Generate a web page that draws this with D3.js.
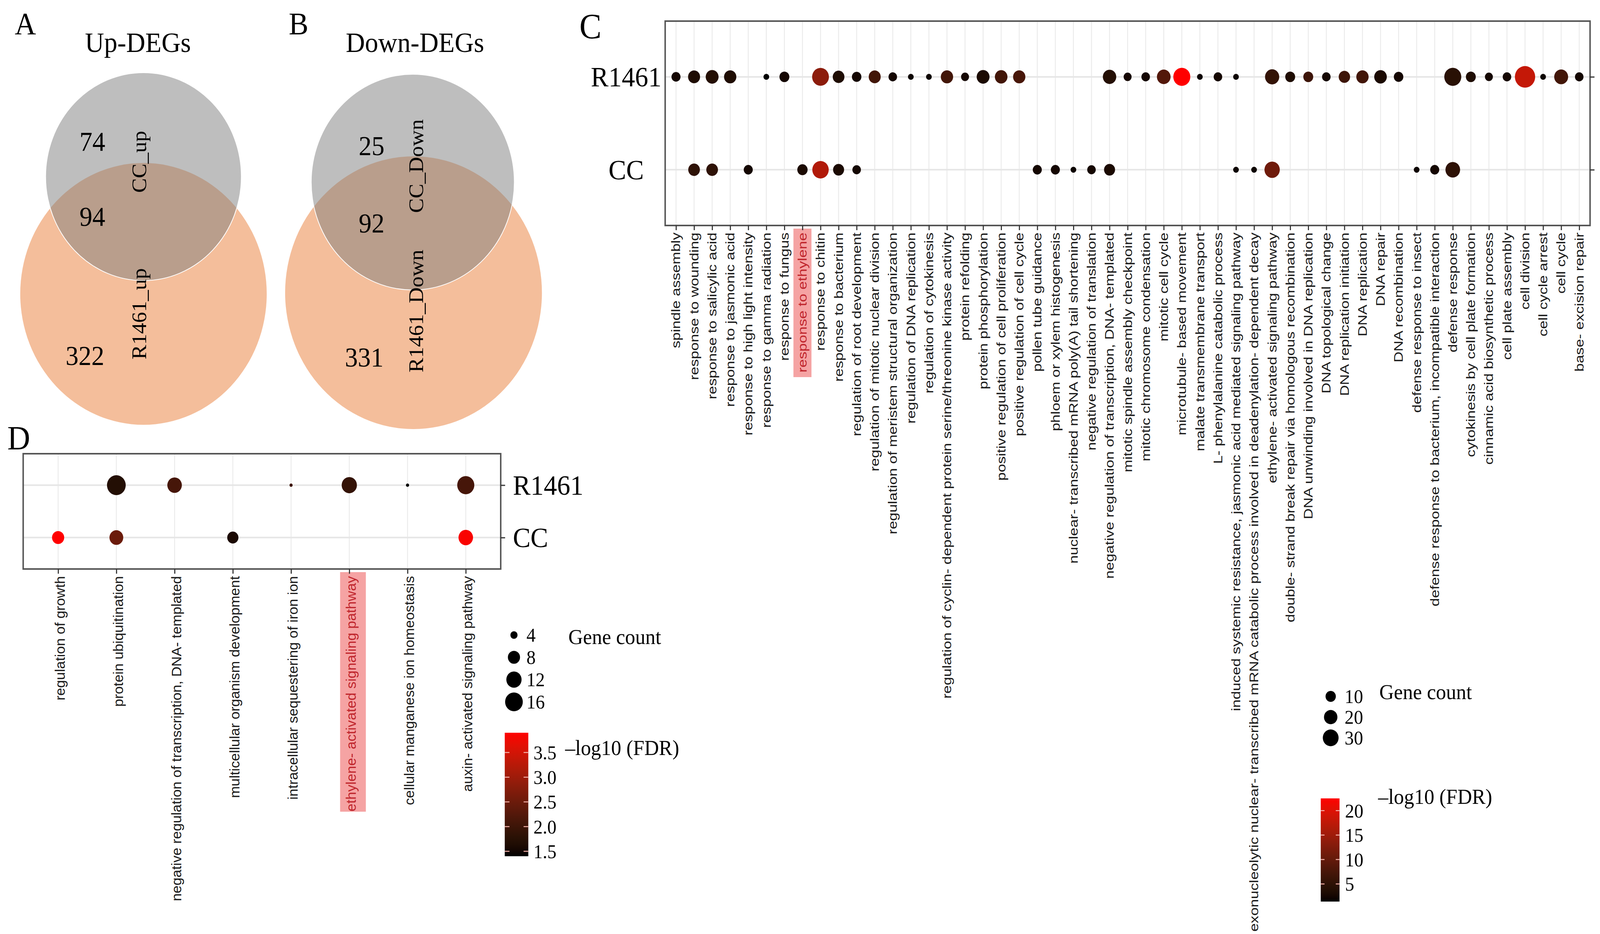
<!DOCTYPE html>
<html>
<head>
<meta charset="utf-8">
<script src="https://cdn.jsdelivr.net/npm/d3@7"></script>
<style>
  html, body { margin: 0; padding: 0; width: 100%; height: 100%; overflow: hidden; background: #fff; }
  svg { display: block; width: 100vw; height: 100vh; }
</style>
</head>
<body>
<svg id="fig" viewBox="0 0 4349 2390" preserveAspectRatio="none"></svg>
<script>
(() => {
    // ---------- data ----------
    const upCounts = [74, 94, 322];      // CC only, shared, R1461 only
    const downCounts = [25, 92, 331];
    const upSets = ["CC_up", "R1461_up"];
    const downSets = ["CC_Down", "R1461_Down"];

    const groups = ["R1461", "CC"];

    const termsC = [
        "spindle assembly", "response to wounding", "response to salicylic acid",
        "response to jasmonic acid", "response to high light intensity", "response to gamma radiation",
        "response to fungus", "response to ethylene", "response to chitin", "response to bacterium",
        "regulation of root development", "regulation of mitotic nuclear division",
        "regulation of meristem structural organization", "regulation of DNA replication",
        "regulation of cytokinesis", "regulation of cyclin- dependent protein serine/threonine kinase activity",
        "protein refolding", "protein phosphorylation", "positive regulation of cell proliferation",
        "positive regulation of cell cycle", "pollen tube guidance", "phloem or xylem histogenesis",
        "nuclear- transcribed mRNA poly(A) tail shortening", "negative regulation of translation",
        "negative regulation of transcription, DNA- templated", "mitotic spindle assembly checkpoint",
        "mitotic chromosome condensation", "mitotic cell cycle", "microtubule- based movement",
        "malate transmembrane transport", "L- phenylalanine catabolic process",
        "induced systemic resistance, jasmonic acid mediated signaling pathway",
        "exonucleolytic nuclear- transcribed mRNA catabolic process involved in deadenylation- dependent decay",
        "ethylene- activated signaling pathway", "double- strand break repair via homologous recombination",
        "DNA unwinding involved in DNA replication", "DNA topological change", "DNA replication initiation",
        "DNA replication", "DNA repair", "DNA recombination", "defense response to insect",
        "defense response to bacterium, incompatible interaction", "defense response",
        "cytokinesis by cell plate formation", "cinnamic acid biosynthetic process", "cell plate assembly",
        "cell division", "cell cycle arrest", "cell cycle", "base- excision repair"
    ];
    const countC_R1461 = [7, 15, 18, 16, null, 2, 9, null, 35, 14, 8, 15, 6, 2, 2, 16, 5, 18, 17, 16,
        null, null, null, null, 20, 5, 6, 21, 36, 2, 6, 2, null, 23, 9, 9, 6, 13, 16, 17, 8,
        null, null, 36, 9, 5, 6, 55, 2, 22, 6];
    const fdrC_R1461 = [2.5, 3.5, 4, 3.5, null, 1.4, 2.5, null, 13.5, 3.5, 2.5, 7, 2.5, 2, 2, 7, 2.5, 3, 7, 7.5,
        null, null, null, null, 4, 2.5, 2.5, 8.5, 22.5, 2, 2.5, 2, null, 5.5, 3.5, 6.5, 2.5, 6.5, 7, 3, 2.5,
        null, null, 4.5, 3.5, 2.5, 2.5, 18, 2, 7, 2.5];
    const countC_CC = [null, 14, 14, null, 7, null, null, 10, 33, 12, 6, null, null, null, null, null, null, null, null, null,
        7, 7, 2, 6, 12, null, null, null, null, null, null, 2, 2, 28, null, null, null, null, null, null, null,
        2, 7, 25, null, null, null, null, null, null, null];
    const fdrC_CC = [null, 5, 5, null, 2.5, null, null, 3, 16.5, 3, 2.5, null, null, null, null, null, null, null, null, null,
        2.5, 2.5, 2, 2.5, 3, null, null, null, null, null, null, 2, 2, 11, null, null, null, null, null, null, null,
        2, 2.5, 5, null, null, null, null, null, null, null];

    const termsD = [
        "regulation of growth", "protein ubiquitination",
        "negative regulation of transcription, DNA- templated", "multicellular organism development",
        "intracellular sequestering of iron ion", "ethylene- activated signaling pathway",
        "cellular manganese ion homeostasis", "auxin- activated signaling pathway"
    ];
    const countD_R1461 = [null, 18, 11, null, 3, 12, 3, 15];
    const fdrD_R1461 = [null, 1.7, 2.1, null, 2.0, 1.9, 1.4, 2.1];
    const countD_CC = [8, 10, null, 7, null, null, null, 11];
    const fdrD_CC = [3.9, 2.5, null, 1.6, null, null, null, 3.85];

    const sizeTicksC = [10, 20, 30];
    const colorTicksC = [5, 10, 15, 20];
    const sizeTicksD = [4, 8, 12, 16];
    const colorTicksD = [1.5, 2.0, 2.5, 3.0, 3.5];

    const highlightC = "response to ethylene";
    const highlightD = "ethylene- activated signaling pathway";

    // ---------- setup ----------
    const svg = d3.select("#fig");
    svg.append("rect").attr("width", 4349).attr("height", 2390).attr("fill", "#fff");
    const serif = "'Liberation Serif', 'Times New Roman', serif";
    const sans = "'Liberation Sans', Arial, sans-serif";

    function panelLetter(txt, x, y, size) {
        svg.append("text").attr("x", x).attr("y", y)
            .attr("font-family", serif).attr("font-size", size).text(txt);
    }

    // ---------- Venn (A, B) ----------
    function venn(cx, title, counts, sets, small, big) {
        const g = svg.append("g");
        g.append("text").attr("x", cx).attr("y", 133).attr("text-anchor", "middle")
            .attr("font-family", serif).attr("font-size", 72).text(title);
        g.append("circle").attr("cx", big.x).attr("cy", big.y).attr("r", big.r)
            .attr("fill", "rgb(233,125,55)").attr("fill-opacity", 0.5);
        g.append("circle").attr("cx", small.x).attr("cy", small.y).attr("r", small.r)
            .attr("fill", "rgb(125,125,125)").attr("fill-opacity", 0.5)
            .attr("stroke", "#fff").attr("stroke-width", 2);
        const numPos = [
            [small.numX, small.y - small.r * 0.34],
            [small.numX, small.y + small.r * 0.38],
            [big.numX, big.y + big.r * 0.47]
        ];
        counts.forEach((c, i) => {
            g.append("text").attr("x", numPos[i][0]).attr("y", numPos[i][1])
                .attr("dy", "0.35em").attr("text-anchor", "middle")
                .attr("font-family", serif).attr("font-size", 70).text(c);
        });
        [[sets[0], small.labY], [sets[1], big.labY]].forEach(([t, ly]) => {
            g.append("text")
                .attr("transform", `translate(${cx + 4},${ly}) rotate(-90)`)
                .attr("dy", "0.32em").attr("text-anchor", "middle")
                .attr("font-family", serif).attr("font-size", 56).text(t);
        });
    }

    panelLetter("A", 40, 88, 80);
    panelLetter("B", 785, 88, 80);
    venn(375, "Up-DEGs", upCounts, upSets,
        { x: 390, y: 452, r: 266, numX: 251, labY: 414 },
        { x: 390, y: 752, r: 335, numX: 231, labY: 803 });
    venn(1128, "Down-DEGs", downCounts, downSets,
        { x: 1122, y: 466, r: 276, numX: 1010, labY: 425 },
        { x: 1124, y: 749, r: 349, numX: 990, labY: 796 });

    // ---------- dot panels (C, D) ----------
    function dotPanel(o) {
        const g = svg.append("g");
        const x = d3.scalePoint().domain(o.terms).range([o.x0, o.x1]).padding(0.6);
        const y = d3.scalePoint().domain(groups).range([o.y0, o.y1]).padding(0.6);

        // highlight box behind one label
        const hx = x(o.highlight);
        g.append("rect").attr("x", hx - o.hlW / 2 + o.hlDx).attr("y", o.y1 + o.labGap - 10)
            .attr("width", o.hlW).attr("height", o.hlH).attr("fill", "#f5a3a3");

        // grid
        g.append("g").selectAll("line").data(o.terms).join("line")
            .attr("x1", d => x(d)).attr("x2", d => x(d)).attr("y1", o.y0).attr("y2", o.y1)
            .attr("stroke", "#ebebeb").attr("stroke-width", 2.5);
        g.append("g").selectAll("line").data(groups).join("line")
            .attr("x1", o.x0).attr("x2", o.x1).attr("y1", d => y(d)).attr("y2", d => y(d))
            .attr("stroke", "#e6e6e6").attr("stroke-width", 4);

        // points
        const pts = [];
        o.series.forEach(s => {
            s.counts.forEach((c, i) => {
                if (c != null) pts.push({ term: o.terms[i], grp: s.name, count: c, fdr: s.fdr[i] });
            });
        });
        g.append("g").selectAll("circle").data(pts).join("circle")
            .attr("cx", d => x(d.term)).attr("cy", d => y(d.grp))
            .attr("r", d => o.size(d.count) / 2)
            .attr("fill", d => o.color(d.fdr));

        // border
        g.append("rect").attr("x", o.x0).attr("y", o.y0)
            .attr("width", o.x1 - o.x0).attr("height", o.y1 - o.y0)
            .attr("fill", "none").attr("stroke", "#555").attr("stroke-width", 4);

        // x ticks
        const ax = g.append("g").attr("transform", `translate(0,${o.y1})`)
            .call(d3.axisBottom(x).tickSize(12).tickFormat(""));
        ax.select(".domain").remove();
        ax.selectAll("line").attr("stroke", "#333").attr("stroke-width", 3);

        // y ticks on right
        const ay = g.append("g").attr("transform", `translate(${o.x1},0)`)
            .call(d3.axisRight(y).tickSize(12).tickFormat(""));
        ay.select(".domain").remove();
        ay.selectAll("line").attr("stroke", "#333").attr("stroke-width", 3);

        // x labels
        g.append("g").selectAll("text").data(o.terms).join("text")
            .attr("transform", d => `translate(${x(d) + o.labDx},${o.y1 + o.labGap}) rotate(-90) scale(${o.labScale},1)`)
            .attr("text-anchor", "end").attr("dy", "0.35em")
            .attr("font-family", sans).attr("font-size", o.labSize)
            .attr("fill", d => d === o.highlight ? "#c0262d" : "#1a1a1a")
            .text(d => d);

        // y labels
        g.append("g").selectAll("text").data(groups).join("text")
            .attr("x", o.yLabX).attr("y", d => y(d)).attr("dy", "0.34em")
            .attr("text-anchor", o.yLabAnchor)
            .attr("font-family", serif).attr("font-size", 72)
            .text(d => d);
        return { x, y };
    }

    function areaSize(domain, range) {
        const t = d3.scaleLinear().domain(domain).range([0, 1]).clamp(true);
        const r = d3.scaleLinear().domain([0, 1]).range(range);
        return v => r(Math.sqrt(t(v)));
    }

    const allFdrC = fdrC_R1461.concat(fdrC_CC).filter(v => v != null);
    const colorC = d3.scaleLinear().domain(d3.extent(allFdrC)).range(["black", "red"])
        .interpolate(d3.interpolateLab);
    const sizeC = areaSize([1, 55], [9.2, 55.2]);

    const allFdrD = fdrD_R1461.concat(fdrD_CC).filter(v => v != null);
    const colorD = d3.scaleLinear().domain(d3.extent(allFdrD)).range(["black", "red"])
        .interpolate(d3.interpolateLab);
    const sizeD = areaSize([3, 18], [8.5, 51]);

    panelLetter("C", 1575, 98, 90);
    dotPanel({
        terms: termsC, highlight: highlightC,
        series: [{ name: "R1461", counts: countC_R1461, fdr: fdrC_R1461 },
                 { name: "CC", counts: countC_CC, fdr: fdrC_CC }],
        x0: 1808, x1: 4322, y0: 54, y1: 577,
        size: sizeC, color: colorC,
        labGap: 18, labDx: 0, labSize: 33, labScale: 1.17,
        hlW: 49, hlH: 380, hlDx: 0,
        yLabX: 1702, yLabAnchor: "middle"
    });

    panelLetter("D", 20, 1150, 86);
    dotPanel({
        terms: termsD, highlight: highlightD,
        series: [{ name: "R1461", counts: countD_R1461, fdr: fdrD_R1461 },
                 { name: "CC", counts: countD_CC, fdr: fdrD_CC }],
        x0: 63, x1: 1361, y0: 1161, y1: 1456,
        size: sizeD, color: colorD,
        labGap: 18, labDx: 5, labSize: 37, labScale: 0.98,
        hlW: 70, hlH: 613, hlDx: 10,
        yLabX: 1394, yLabAnchor: "start"
    });

    // ---------- legends ----------
    function sizeLegend(ticks, size, cx, cys, labX, title, titleX, titleY) {
        const g = svg.append("g");
        ticks.forEach((t, i) => {
            g.append("circle").attr("cx", cx).attr("cy", cys[i]).attr("r", size(t) / 2).attr("fill", "#000");
            g.append("text").attr("x", labX).attr("y", cys[i]).attr("dy", "0.35em")
                .attr("font-family", serif).attr("font-size", 50).text(t);
        });
        g.append("text").attr("x", titleX).attr("y", titleY)
            .attr("font-family", serif).attr("font-size", 55).text(title);
    }

    let gradId = 0;
    function colorLegend(color, ticks, fmt, bx, by0, by1, bw, labX, titleX, titleY) {
        const g = svg.append("g");
        const id = "grad" + (gradId++);
        const dom = color.domain();
        const grad = svg.append("defs").append("linearGradient").attr("id", id)
            .attr("x1", 0).attr("y1", 1).attr("x2", 0).attr("y2", 0);
        d3.range(0, 1.0001, 0.05).forEach(t => {
            grad.append("stop").attr("offset", t)
                .attr("stop-color", color(dom[0] + t * (dom[1] - dom[0])));
        });
        g.append("rect").attr("x", bx).attr("y", by0).attr("width", bw).attr("height", by1 - by0)
            .attr("fill", `url(#${id})`);
        const ys = d3.scaleLinear().domain(dom).range([by1, by0]);
        ticks.forEach(t => {
            [[bx, bx + bw / 5], [bx + bw - bw / 5, bx + bw]].forEach(([a, b]) => {
                g.append("line").attr("x1", a).attr("x2", b).attr("y1", ys(t)).attr("y2", ys(t))
                    .attr("stroke", "#f4b0a8").attr("stroke-width", 2.5);
            });
            g.append("text").attr("x", labX).attr("y", ys(t)).attr("dy", "0.35em")
                .attr("font-family", serif).attr("font-size", 50).text(fmt(t));
        });
        g.append("text").attr("x", titleX).attr("y", titleY)
            .attr("font-family", serif).attr("font-size", 55).text("\u2013log10 (FDR)");
    }

    sizeLegend(sizeTicksC, sizeC, 3617, [1782, 1835, 1888], 3655, "Gene count", 3749, 1789);
    colorLegend(colorC, colorTicksC, d3.format("d"), 3590, 2043, 2307, 51, 3656, 3746, 2057);

    sizeLegend(sizeTicksD, sizeD, 1397, [1625, 1682, 1739, 1796], 1431, "Gene count", 1545, 1648);
    colorLegend(colorD, colorTicksD, d3.format(".1f"), 1372, 1875, 2191, 64, 1450, 1536, 1932);
})();
</script>
</body>
</html>
